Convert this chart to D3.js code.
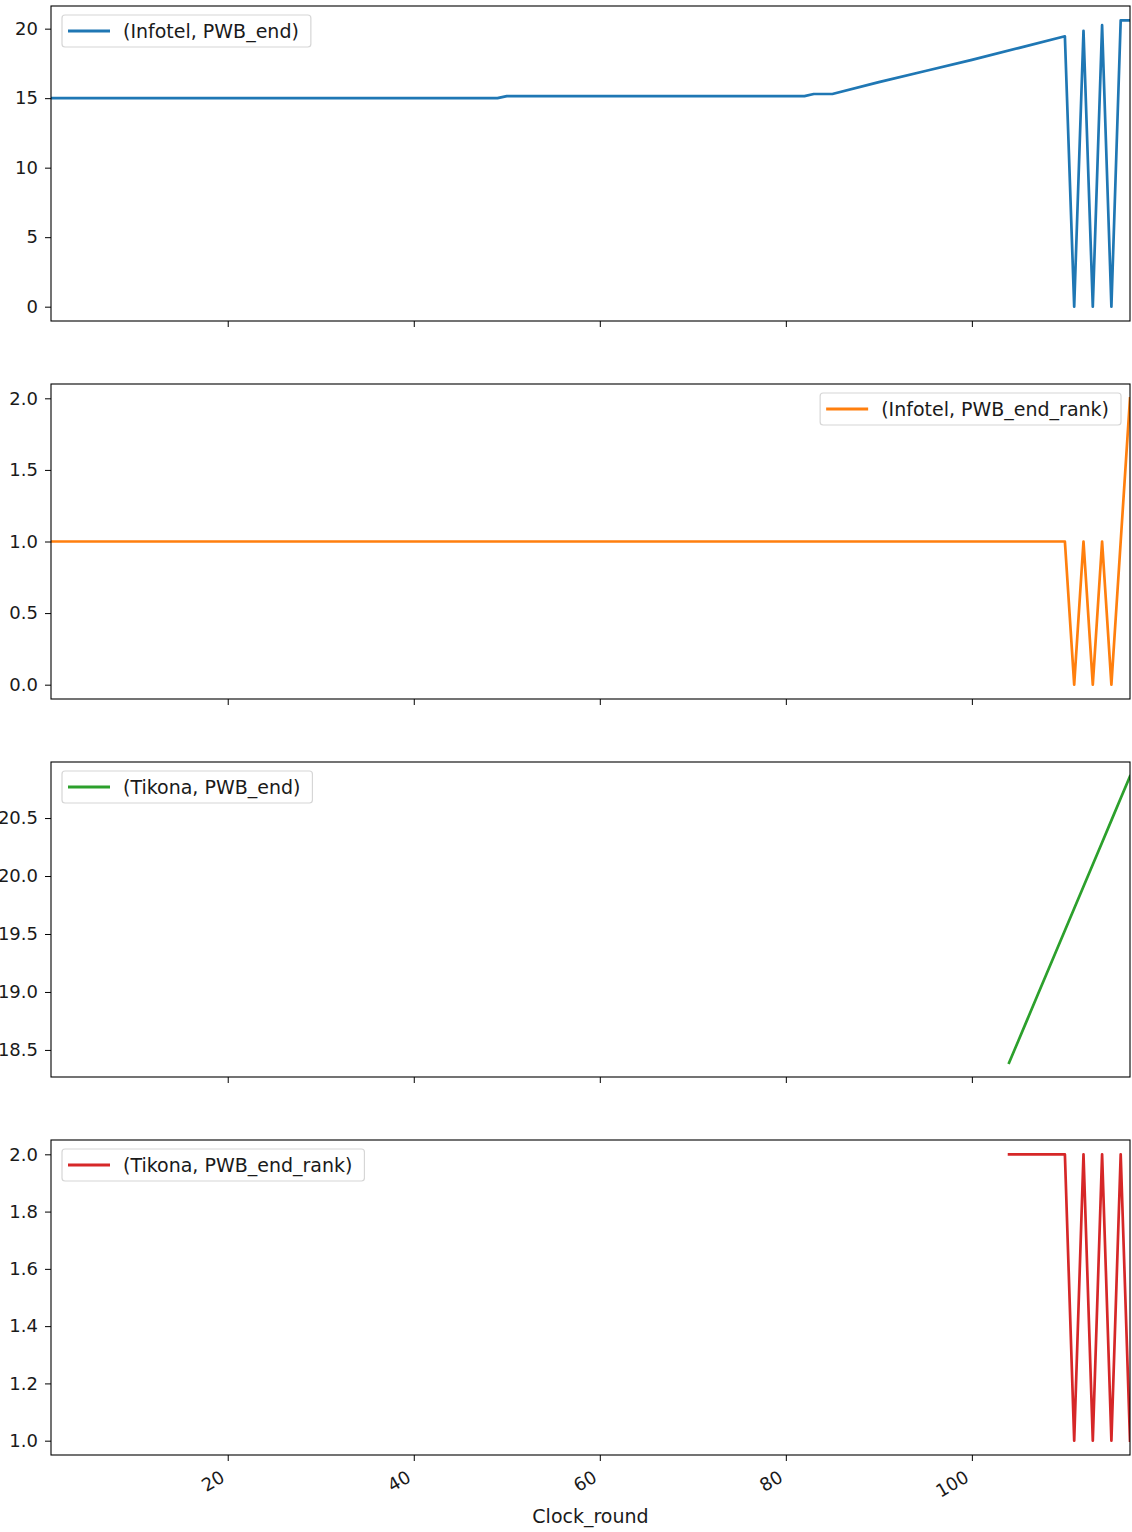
<!DOCTYPE html>
<html>
<head>
<meta charset="utf-8">
<script src="https://cdn.jsdelivr.net/npm/d3@7"></script>
<style>
  html, body { margin: 0; padding: 0; background: #fff; }
  text { font-family: "DejaVu Sans", sans-serif; fill: #1a1a1a; }
</style>
</head>
<body>
<svg id="chart" width="1132" height="1532"></svg>
<script>
// ---- data ----
const xTicks = [20, 40, 60, 80, 100];
const xLabel = "Clock_round";

const infotelPwbRounds = [1, 49, 50, 82, 83, 85, 90, 95, 100, 105, 110, 111, 112, 113, 114, 115, 116, 117];
const infotelPwbValues = [15.0, 15.0, 15.15, 15.15, 15.3, 15.3, 16.15, 16.95, 17.75, 18.6, 19.45, 0, 19.85, 0, 20.25, 0, 20.6, 20.6];

const infotelRankRounds = [1, 110, 111, 112, 113, 114, 115, 116, 117];
const infotelRankValues = [1, 1, 0, 1, 0, 1, 0, 1, 2];

const tikonaPwbRounds = [104, 105, 106, 107, 108, 109, 110, 111, 112, 113, 114, 115, 116, 117];
const tikonaPwbValues = [18.39, 18.58, 18.77, 18.96, 19.15, 19.34, 19.53, 19.72, 19.91, 20.1, 20.29, 20.48, 20.67, 20.86];

const tikonaRankRounds = [104, 110, 111, 112, 113, 114, 115, 116, 117];
const tikonaRankValues = [2, 2, 1, 2, 1, 2, 1, 2, 1];

const seriesNames = ["(Infotel, PWB_end)", "(Infotel, PWB_end_rank)", "(Tikona, PWB_end)", "(Tikona, PWB_end_rank)"];
const seriesColors = ["#1f77b4", "#ff7f0e", "#2ca02c", "#d62728"];
const yTicks1 = [0, 5, 10, 15, 20];
const yTicks2 = [0.0, 0.5, 1.0, 1.5, 2.0];
const yTicks3 = [18.5, 19.0, 19.5, 20.0, 20.5];
const yTicks4 = [1.0, 1.2, 1.4, 1.6, 1.8, 2.0];

// ---- layout ----
const svg = d3.select("#chart");
const left = 51, right = 1130;
const panelTops = [6, 384, 762, 1140];
const panelH = 315;
const tickFont = 18;
const textFont = 19;

const panels = [
  { rounds: infotelPwbRounds, values: infotelPwbValues, ticks: yTicks1, fmt: d3.format("d"), legend: "left" },
  { rounds: infotelRankRounds, values: infotelRankValues, ticks: yTicks2, fmt: d3.format(".1f"), legend: "right" },
  { rounds: tikonaPwbRounds, values: tikonaPwbValues, ticks: yTicks3, fmt: d3.format(".1f"), legend: "left" },
  { rounds: tikonaRankRounds, values: tikonaRankValues, ticks: yTicks4, fmt: d3.format(".1f"), legend: "left" }
];

const x = d3.scaleLinear().domain([1, 117]).range([left, right]);

panels.forEach((p, i) => {
  const top = panelTops[i], bottom = top + panelH;
  const [mn, mx] = d3.extent(p.values);
  const pad = (mx - mn) * 0.05;
  const y = d3.scaleLinear().domain([mn - pad, mx + pad]).range([bottom, top]);
  const g = svg.append("g");

  const clipId = "clip" + i;
  svg.append("clipPath").attr("id", clipId).append("rect")
    .attr("x", left).attr("y", top).attr("width", right - left).attr("height", panelH);

  const pts = p.rounds.map((r, k) => [r, p.values[k]]);
  g.append("path")
    .attr("clip-path", `url(#${clipId})`)
    .attr("d", d3.line().x(d => x(d[0])).y(d => y(d[1]))(pts))
    .attr("fill", "none")
    .attr("stroke", seriesColors[i])
    .attr("stroke-width", 2.7)
    .attr("stroke-linejoin", "round")
    .attr("stroke-linecap", "square");

  // y axis
  const yAxis = d3.axisLeft(y).tickValues(p.ticks).tickFormat(p.fmt).tickSizeOuter(0).tickSize(6).tickPadding(7);
  const ya = g.append("g").attr("transform", `translate(${left},0)`).call(yAxis);
  ya.select(".domain").remove();
  ya.selectAll("line").attr("stroke", "#000").attr("stroke-width", 1);
  ya.selectAll("text").attr("font-size", tickFont).attr("font-family", "DejaVu Sans").attr("fill", "#1a1a1a");

  // x axis
  const xAxis = d3.axisBottom(x).tickValues(xTicks).tickSize(6).tickSizeOuter(0);
  const xa = g.append("g").attr("transform", `translate(0,${bottom})`).call(xAxis);
  xa.select(".domain").remove();
  xa.selectAll("line").attr("stroke", "#000").attr("stroke-width", 1);
  if (i < 3) {
    xa.selectAll("text").remove();
  } else {
    xa.selectAll("text")
      .attr("font-size", tickFont).attr("font-family", "DejaVu Sans").attr("fill", "#1a1a1a")
      .attr("text-anchor", "end")
      .attr("dy", null).attr("y", null)
      .attr("dominant-baseline", "hanging")
      .attr("transform", "translate(-9,14) rotate(-30)");
  }

  // frame
  g.append("rect")
    .attr("x", left).attr("y", top).attr("width", right - left).attr("height", panelH)
    .attr("fill", "none").attr("stroke", "#000").attr("stroke-width", 1.1);

  // legend
  const lg = g.append("g");
  const txt = lg.append("text").text(seriesNames[i])
    .attr("font-size", textFont).attr("font-family", "DejaVu Sans");
  const tw = txt.node().getComputedTextLength();
  const boxW = 61 + tw + 12, boxH = 32;
  const bx = p.legend === "left" ? left + 11 : right - 9 - boxW;
  const by = top + 9;
  lg.insert("rect", "text")
    .attr("x", bx).attr("y", by).attr("width", boxW).attr("height", boxH)
    .attr("rx", 3).attr("fill", "rgba(255,255,255,0.8)").attr("stroke", "#d6d6d6").attr("stroke-width", 1.2);
  lg.append("line")
    .attr("x1", bx + 6).attr("x2", bx + 48).attr("y1", by + boxH / 2).attr("y2", by + boxH / 2)
    .attr("stroke", seriesColors[i]).attr("stroke-width", 3.2);
  txt.attr("x", bx + 61).attr("y", by + boxH / 2).attr("dominant-baseline", "central");
});

svg.append("text").text(xLabel)
  .attr("x", (left + right) / 2).attr("y", 1523)
  .attr("text-anchor", "middle").attr("font-size", textFont).attr("font-family", "DejaVu Sans");
</script>
</body>
</html>
